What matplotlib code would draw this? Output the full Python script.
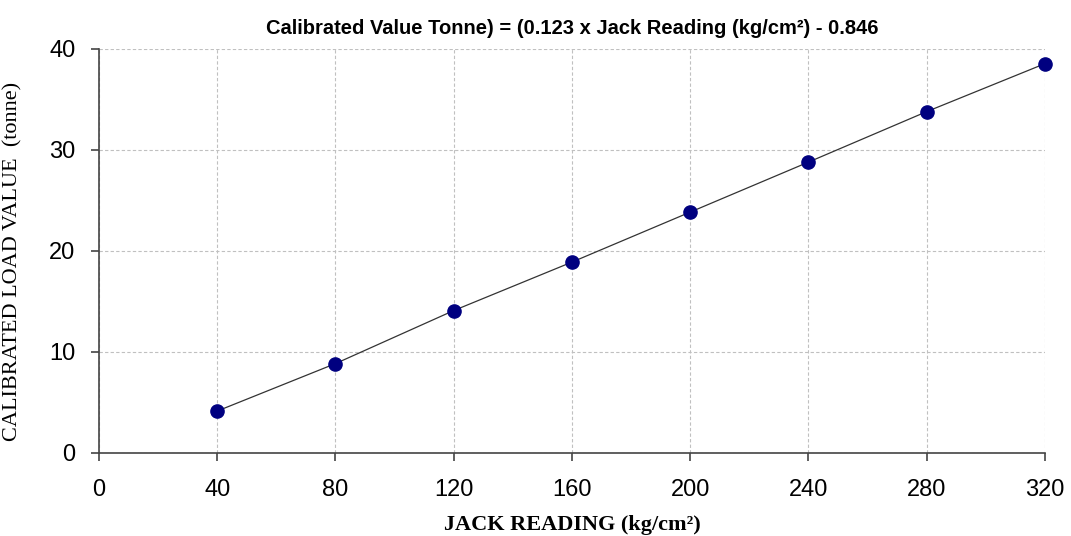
import matplotlib.pyplot as plt

jack_reading = [40, 80, 120, 160, 200, 240, 280, 320]
load_tonne = [4.15, 8.85, 14.1, 18.9, 23.85, 28.8, 33.8, 38.55]
x_ticks = [0, 40, 80, 120, 160, 200, 240, 280, 320]
y_ticks = [0, 10, 20, 30, 40]

fig = plt.figure(figsize=(10.71, 5.36), dpi=100)
ax = fig.add_axes([0.0924, 0.1549, 0.8833, 0.7537])

ax.plot(jack_reading, load_tonne, color='#333333', lw=0.9, zorder=2)
ax.plot(jack_reading, load_tonne, 'o', color='#000080', ms=9.5, zorder=3, clip_on=False)

ax.set_xlim(0, 320)
ax.set_ylim(0, 40)
ax.set_xticks(x_ticks)
ax.set_yticks(y_ticks)
ax.grid(True, ls=(0, (3, 2)), color='#c0c0c0', lw=0.8)
ax.set_axisbelow(True)
for s in ['top', 'right']:
    ax.spines[s].set_visible(False)
for s in ['left', 'bottom']:
    ax.spines[s].set_color('#444444')
    ax.spines[s].set_linewidth(1.2)
ax.tick_params(axis='both', direction='out', length=6, width=1.2, color='#444444',
               labelsize=17)
ax.tick_params(axis='x', pad=13)
ax.tick_params(axis='y', pad=11)
for lab in ax.get_xticklabels() + ax.get_yticklabels():
    lab.set_family('Liberation Sans')

ax.set_title('Calibrated Value Tonne) = (0.123 x Jack Reading (kg/cm²) - 0.846',
             fontsize=14.5, fontweight='bold', family='Liberation Sans', pad=11)
ax.set_xlabel('JACK READING (kg/cm²)', fontsize=16, fontweight='bold',
              family='Liberation Serif', labelpad=10)
ax.set_ylabel('CALIBRATED LOAD VALUE  (tonne)', fontsize=16,
              family='Liberation Serif')
ax.yaxis.set_label_coords(-0.081, 0.475)

fig.savefig('out.png', dpi=100)
